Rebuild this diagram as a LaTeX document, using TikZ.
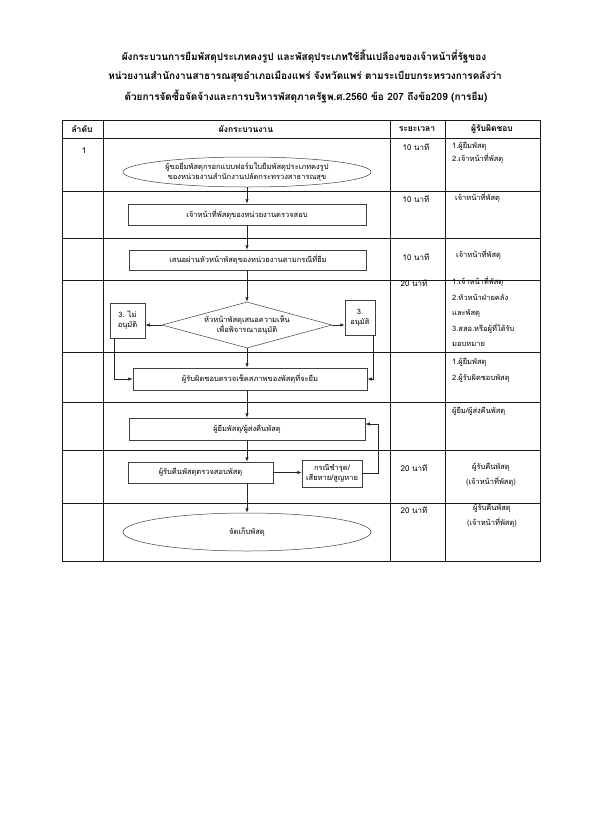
\documentclass[tikz,border=0pt]{standalone}
\usepackage{fontspec}
\newfontfamily\thai[Script=Thai]{Loma}
\usetikzlibrary{shapes.geometric,arrows.meta}
\begin{document}
\begin{tikzpicture}[x=1pt,y=-1pt,
  tbl/.style={line width=0.8pt, draw=black!90},
  box/.style={draw=black!75, line width=0.5pt, rectangle, inner sep=0pt, align=center, font=\thai\fontsize{7.5}{10}\selectfont},
  oval/.style={box, ellipse},
  dia/.style={box, diamond, aspect=3.7},
  arr/.style={line width=0.7pt, draw=black!85, -{Latex[length=4.5pt,width=3.5pt]}},
  cell/.style={font=\thai\fontsize{7.5}{14}\selectfont, inner sep=0pt, align=left, anchor=north west},
  tm/.style={font=\thai\fontsize{8}{10}\selectfont, inner sep=0pt},
  head/.style={font=\thai\bfseries\fontsize{8.5}{10}\selectfont, inner sep=0pt},
  ttl/.style={font=\thai\bfseries\fontsize{10}{12}\selectfont, inner sep=0pt}
]
\fill[white] (0,0) rectangle (609,814);
\useasboundingbox (0,0) rectangle (609,814);

% title
\node[ttl] (t1) at (304,57) {ผังกระบวนการยืมพัสดุประเภทคงรูป และพัสดุประเภทใช้สิ้นเปลืองของเจ้าหน้าที่รัฐของ};
\node[ttl] (t2) at (305,77) {หน่วยงานสำนักงานสาธารณสุขอำเภอเมืองแพร่ จังหวัดแพร่ ตามระเบียบกระทรวงการคลังว่า};
\node[ttl] (t3) at (306,97) {ด้วยการจัดซื้อจัดจ้างและการบริหารพัสดุภาครัฐพ.ศ.2560 ข้อ 207 ถึงข้อ209 (การยืม)};

% table grid
\draw[tbl] (62,120) rectangle (540,561);
\foreach \yy in {138,191,238,280,352,402,450,503} \draw[tbl] (62,\yy) -- (540,\yy);
\foreach \xx in {103,390,445} \draw[tbl] (\xx,120) -- (\xx,561);

% header
\node[head] (h1) at (82,129) {ลำดับ};
\node[head] (h2) at (246,129) {ผังกระบวนงาน};
\node[head] (h3) at (417,129) {ระยะเวลา};
\node[head] (h4) at (492,129) {ผู้รับผิดชอบ};

\node[tm] (n1) at (84,151) {1};

% time column
\node[tm] (m1) at (416,147) {10 นาที};
\node[tm] (m2) at (416,199) {10 นาที};
\node[tm] (m3) at (416,257) {10 นาที};
\node[tm] (m4) at (414,283) {20 นาที};
\node[tm] (m7) at (414,468) {20 นาที};
\node[tm] (m8) at (414,510) {20 นาที};

% responsible column
\node[cell, font=\thai\fontsize{7.5}{13}\selectfont] (r1) at (452,142) {1.ผู้ยืมพัสดุ\\2.เจ้าหน้าที่พัสดุ};
\node[cell] (r2) at (455,193) {เจ้าหน้าที่พัสดุ};
\node[cell] (r3) at (456,250) {เจ้าหน้าที่พัสดุ};
\node[cell, font=\thai\fontsize{7.5}{15.5}\selectfont] (r4) at (452,277) {1.เจ้าหน้าที่พัสดุ\\2.หัวหน้าฝ่ายคลัง\\และพัสดุ\\3.สสอ.หรือผู้ที่ได้รับ\\มอบหมาย};
\node[cell, font=\thai\fontsize{7.5}{15.5}\selectfont] (r5) at (452,358) {1.ผู้ยืมพัสดุ\\2.ผู้รับผิดชอบพัสดุ};
\node[cell] (r6) at (452,407) {ผู้ยืม/ผู้ส่งคืนพัสดุ};
\node[cell, anchor=center, align=center, font=\thai\fontsize{7.5}{15}\selectfont] (r7) at (491,475) {ผู้รับคืนพัสดุ\\(เจ้าหน้าที่พัสดุ)};
\node[cell, anchor=center, align=center, font=\thai\fontsize{7.5}{15}\selectfont] (r8) at (492,516) {ผู้รับคืนพัสดุ\\(เจ้าหน้าที่พัสดุ)};

% flowchart
\node[oval, minimum width=248pt, minimum height=30pt] (e1) at (247,172) {ผู้ขอยืมพัสดุกรอกแบบฟอร์มใบยืมพัสดุประเภทคงรูป\\ของหน่วยงานสำนักงานปลัดกระทรวงสาธารณสุข};
\node[box, minimum width=238pt, minimum height=21pt] (b2) at (247,214.5) {เจ้าหน้าที่พัสดุของหน่วยงานตรวจสอบ};
\node[box, minimum width=237pt, minimum height=20pt] (b3) at (248,260) {เสนอผ่านหัวหน้าพัสดุของหน่วยงานตามกรณีที่ยืม};
\node[dia, minimum width=170pt, minimum height=46pt] (d) at (247,325) {หัวหน้าพัสดุเสนอความเห็น\\เพื่อพิจารณาอนุมัติ};
\node[box, minimum width=35pt, minimum height=35pt] (nb) at (127.5,320.5) {3. ไม่\\อนุมัติ};
\node[box, minimum width=30pt, minimum height=35pt] (ab) at (360,317.5) {3.\\อนุมัติ};
\node[box, minimum width=234pt, minimum height=22pt] (b5) at (250,379) {ผู้รับผิดชอบตรวจเช็คสภาพของพัสดุที่จะยืม};
\node[box, minimum width=236pt, minimum height=22pt] (b6) at (247,429) {ผู้ยืมพัสดุ/ผู้ส่งคืนพัสดุ};
\node[box, minimum width=145pt, minimum height=21pt] (b7) at (200.5,472.5) {ผู้รับคืนพัสดุตรวจสอบพัสดุ};
\node[box, minimum width=60pt, minimum height=27pt] (b8) at (332,473.5) {กรณีชำรุด/\\เสียหาย/สูญหาย};
\node[oval, minimum width=248pt, minimum height=38pt] (e2) at (247,532) {จัดเก็บพัสดุ};

\coordinate (c1) at (378,424);

\draw[arr] (e1.south) -- (e1.south |- b2.north);
\draw[arr] (b2.south) -- (b2.south |- b3.north);
\draw[arr] (b3.south -| d.north) -- (d.north);
\draw[arr] (d.west) -- (d.west -| nb.east);
\draw[arr] (d.east) -- (d.east -| ab.west);
\draw[arr] (d.south) -- (d.south |- b5.north);
\draw[arr] ([xshift=5pt]nb.south west) |- (b5.west);
\draw[arr] ([xshift=-2pt]ab.south east) |- (b5.east);
\draw[arr] (b5.south -| d.south) -- (d.south |- b6.north);
\draw[arr] (b6.south) -- (b6.south |- b7.north);
\draw[arr] (b7.south -| b6.south) -- (e2.north);
\draw[arr] (b7.east) -- (b7.east -| b8.west);
\draw[arr] (b8.east) -| (c1) -- (c1 -| b6.east);
\end{tikzpicture}
\end{document}
